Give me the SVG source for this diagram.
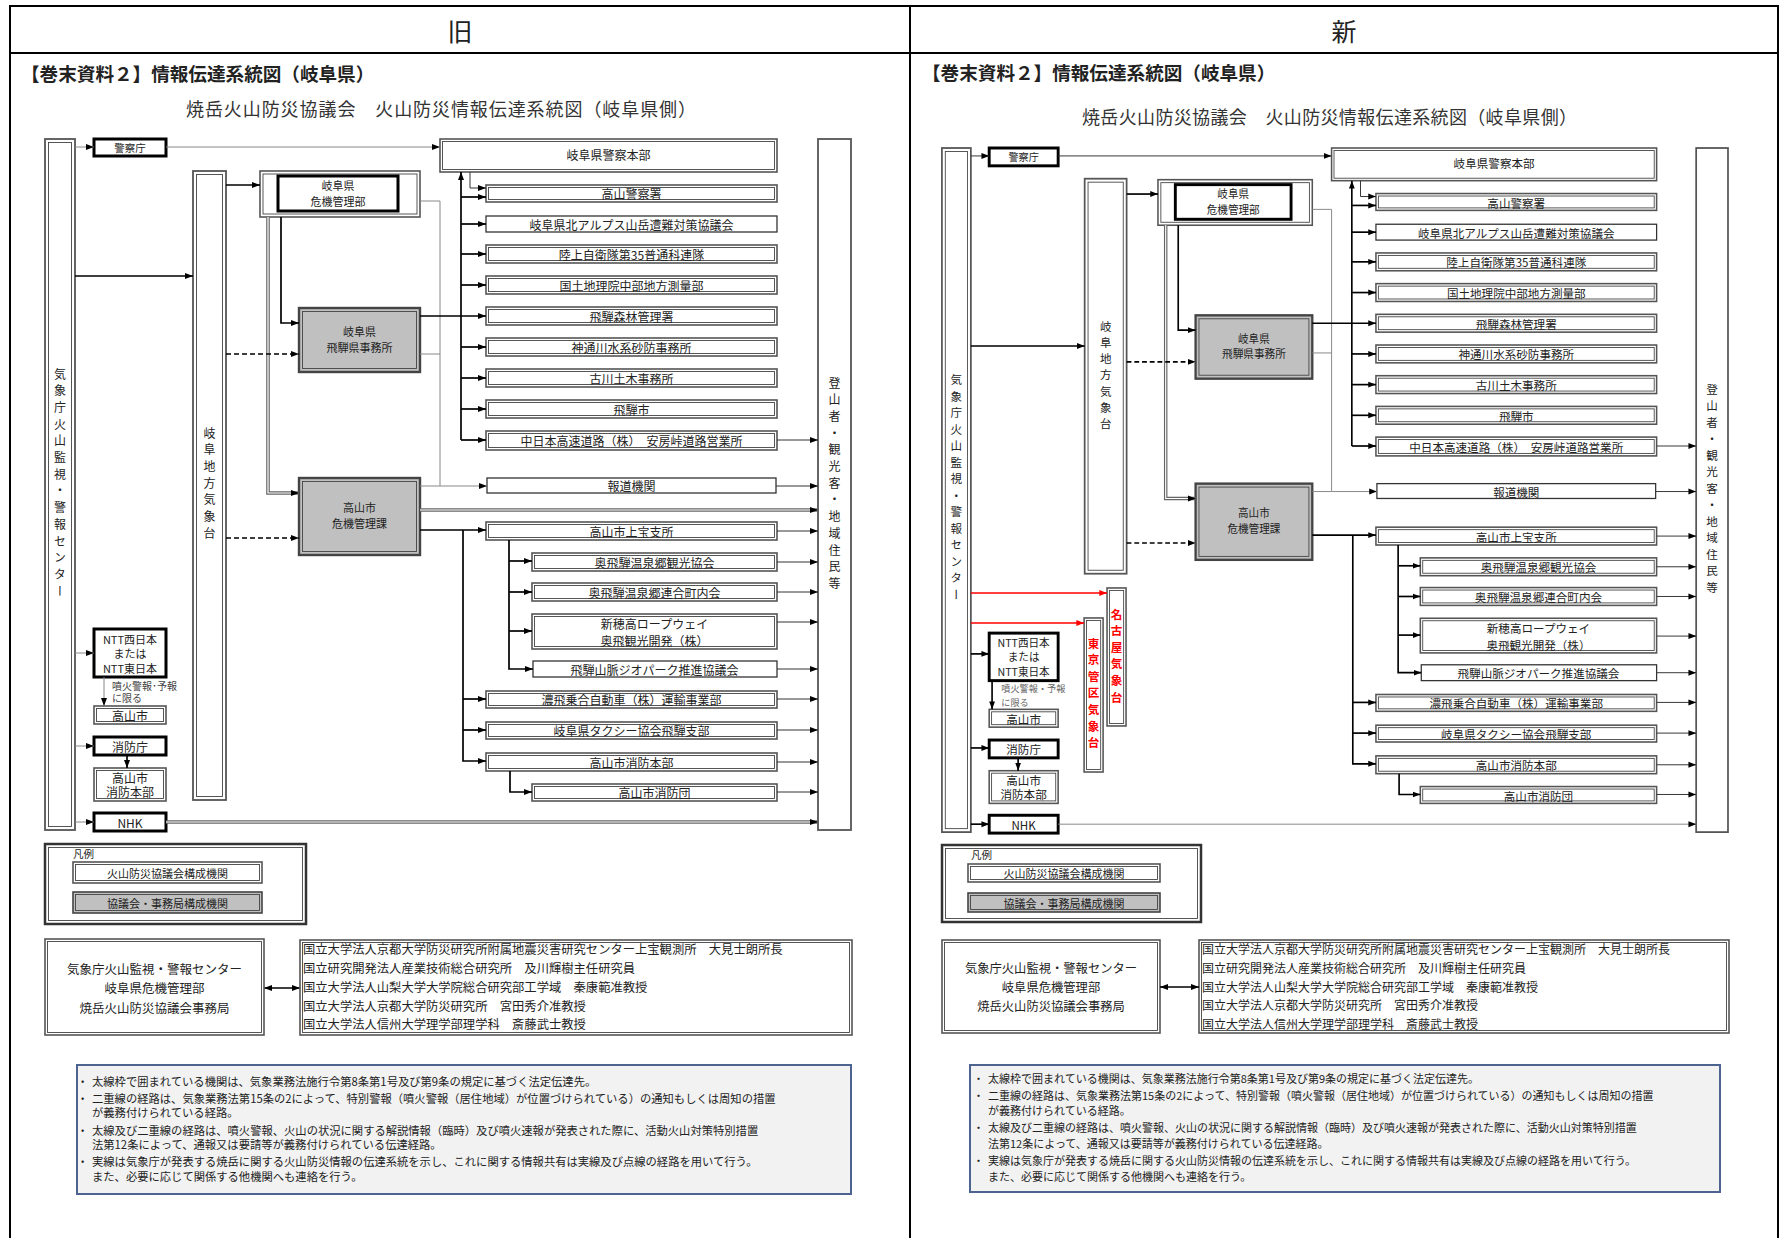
<svg xmlns="http://www.w3.org/2000/svg" width="1780" height="1238" viewBox="0 0 1780 1238">
<defs>
<style>
.t{font-family:"Noto Sans CJK JP","Noto Sans",sans-serif;fill:#222}
.c{text-anchor:middle;dominant-baseline:central}
.s{dominant-baseline:central}
.v{writing-mode:vertical-rl;font-size:12px;letter-spacing:4.7px}
.red{fill:#f00;font-weight:bold}
.f9{font-size:9.5px}.f10{font-size:10px}.f105{font-size:10.5px}.f11{font-size:11px}.f113{font-size:11.3px}.f12{font-size:12px}.f123{font-size:12.3px}.f125{font-size:12.5px}
.bo{fill:#fff;stroke:#555;stroke-width:1.6}
.bi{fill:none;stroke:#444;stroke-width:0.9}
.bt{fill:#fff;stroke:#000;stroke-width:3}
.bs{fill:#fff;stroke:#333;stroke-width:1.3}
.bg{fill:#c0c0c0;stroke:#444;stroke-width:2.4}
.cl{fill:#fff;stroke:#555;stroke-width:1.8}
.l{fill:none;stroke:#000;stroke-width:1.7}
.lg{fill:none;stroke:#888;stroke-width:1}
.lt{fill:none;stroke:#333;stroke-width:1}
.ld{fill:none;stroke:#000;stroke-width:1.7;stroke-dasharray:5 3}
.l2o{fill:none;stroke:#666;stroke-width:3.6}
.l2i{fill:none;stroke:#fff;stroke-width:1.2}
.lr{fill:none;stroke:#f00;stroke-width:1.6}
.fr{fill:none;stroke:#000;stroke-width:2}
.nb{fill:#f2f2f2;stroke:#4d6390;stroke-width:2}
.ttl{font-size:18.6px;font-weight:bold}
.sub{font-size:18px;fill:#333}
</style>
<marker id="a" viewBox="0 0 8 8" refX="8" refY="4" markerWidth="8" markerHeight="8" markerUnits="userSpaceOnUse" orient="auto-start-reverse"><path d="M0,1L8,4L0,7z" fill="#000"/></marker>
<marker id="ar" viewBox="0 0 8 8" refX="8" refY="4" markerWidth="8" markerHeight="8" markerUnits="userSpaceOnUse" orient="auto"><path d="M0,1L8,4L0,7z" fill="#f00"/></marker>
</defs>
<rect x="0" y="0" width="1780" height="1238" fill="#fff"/>
<g id="frame">
<path class="fr" d="M10,1238V6H1778V1238M10,53H1778M910,6V1238"/>
<text class="t c" x="460" y="30" style="font-size:25px">旧</text>
<text class="t c" x="1344" y="30" style="font-size:25px">新</text>
</g>

<!-- ===== LEFT PANEL ===== -->
<g id="L-titles">
<text class="t s ttl" x="21" y="72">【巻末資料２】情報伝達系統図（岐阜県）</text>
<text class="t s sub" x="186" y="108" textLength="510">焼岳火山防災協議会　火山防災情報伝達系統図（岐阜県側）</text>
</g>
<g id="L-nodes">
<g id="L-kishocho"><rect class="cl" x="45" y="139" width="30" height="691"/><rect class="bi" x="48.5" y="142.5" width="23" height="684"/><text class="t v" x="60" y="368">気象庁火山監視・警報センター</text></g>
<g id="L-kishodai"><rect class="cl" x="193" y="171" width="33" height="629"/><rect class="bi" x="196.5" y="174.5" width="26" height="622"/><text class="t v" x="209.5" y="427">岐阜地方気象台</text></g>
<g id="L-tozansha"><rect class="cl" x="818" y="139" width="33" height="691"/><text class="t v" x="834.5" y="377">登山者・観光客・地域住民等</text></g>
<g id="L-keisatsucho"><rect class="bt" x="94" y="139" width="72" height="17"/><text class="t c f105" x="130" y="147.5">警察庁</text></g>
<g id="L-kikikanri"><rect class="bo" x="260" y="171" width="160" height="46"/><rect class="bi" x="263" y="174" width="154" height="40"/><rect class="bt" x="278" y="176" width="120" height="35"/><text class="t c f11" x="338" y="184.5">岐阜県</text><text class="t c f11" x="338" y="201">危機管理部</text></g>
<g id="L-hida"><rect class="bg" x="299" y="308" width="121" height="64"/><rect class="bi" x="302.5" y="311.5" width="114" height="57"/><text class="t c f11" x="359.5" y="331">岐阜県</text><text class="t c f11" x="359.5" y="347">飛騨県事務所</text></g>
<g id="L-takayama-kiki"><rect class="bg" x="299" y="478" width="121" height="77"/><rect class="bi" x="302.5" y="481.5" width="114" height="70"/><text class="t c f11" x="359.5" y="507">高山市</text><text class="t c f11" x="359.5" y="523">危機管理課</text></g>
<g id="L-keisatsuhonbu"><rect class="bo" x="440" y="139" width="337" height="33"/><rect class="bi" x="442.5" y="141.5" width="332" height="28"/><text class="t c f12" x="608.5" y="154">岐阜県警察本部</text></g>
<g id="L-b1"><rect class="bo" x="486" y="185" width="291" height="17"/><rect class="bi" x="488.5" y="187.5" width="286" height="12"/><text class="t c f12" x="631.5" y="193.5">高山警察署</text></g>
<g id="L-b2"><rect class="bs" x="486" y="216" width="291" height="16"/><text class="t c f12" x="631.5" y="224">岐阜県北アルプス山岳遭難対策協議会</text></g>
<g id="L-b3"><rect class="bo" x="486" y="245" width="291" height="18"/><rect class="bi" x="488.5" y="247.5" width="286" height="13"/><text class="t c f12" x="631.5" y="254">陸上自衛隊第35普通科連隊</text></g>
<g id="L-b4"><rect class="bo" x="486" y="276" width="291" height="18"/><rect class="bi" x="488.5" y="278.5" width="286" height="13"/><text class="t c f12" x="631.5" y="285">国土地理院中部地方測量部</text></g>
<g id="L-b5"><rect class="bo" x="486" y="307" width="291" height="18"/><rect class="bi" x="488.5" y="309.5" width="286" height="13"/><text class="t c f12" x="631.5" y="316">飛騨森林管理署</text></g>
<g id="L-b6"><rect class="bo" x="486" y="338" width="291" height="18"/><rect class="bi" x="488.5" y="340.5" width="286" height="13"/><text class="t c f12" x="631.5" y="347">神通川水系砂防事務所</text></g>
<g id="L-b7"><rect class="bo" x="486" y="369" width="291" height="18"/><rect class="bi" x="488.5" y="371.5" width="286" height="13"/><text class="t c f12" x="631.5" y="378">古川土木事務所</text></g>
<g id="L-b8"><rect class="bo" x="486" y="400" width="291" height="18"/><rect class="bi" x="488.5" y="402.5" width="286" height="13"/><text class="t c f12" x="631.5" y="409">飛騨市</text></g>
<g id="L-b9"><rect class="bo" x="486" y="431" width="291" height="19"/><rect class="bi" x="488.5" y="433.5" width="286" height="14"/><text class="t c f12" x="631.5" y="440.5">中日本高速道路（株）　安房峠道路営業所</text></g>
<g id="L-b10"><rect class="bs" x="487" y="478" width="289" height="15"/><text class="t c f12" x="631.5" y="485.5">報道機関</text></g>
<g id="L-b11"><rect class="bo" x="486" y="522" width="291" height="18"/><rect class="bi" x="488.5" y="524.5" width="286" height="13"/><text class="t c f12" x="631.5" y="531">高山市上宝支所</text></g>
<g id="L-b12"><rect class="bo" x="532" y="553" width="245" height="18"/><rect class="bi" x="534.5" y="555.5" width="240" height="13"/><text class="t c f12" x="654.5" y="562">奥飛騨温泉郷観光協会</text></g>
<g id="L-b13"><rect class="bo" x="532" y="583" width="245" height="18"/><rect class="bi" x="534.5" y="585.5" width="240" height="13"/><text class="t c f12" x="654.5" y="592">奥飛騨温泉郷連合町内会</text></g>
<g id="L-b14"><rect class="bo" x="532" y="614" width="245" height="35"/><rect class="bi" x="534.5" y="616.5" width="240" height="30"/><text class="t c f12" x="654.5" y="623.5">新穂高ロープウェイ</text><text class="t c f12" x="654.5" y="640">奥飛観光開発（株）</text></g>
<g id="L-b15"><rect class="bs" x="533" y="661" width="244" height="16"/><text class="t c f12" x="654.5" y="669">飛騨山脈ジオパーク推進協議会</text></g>
<g id="L-b16"><rect class="bo" x="486" y="691" width="291" height="17"/><rect class="bi" x="488.5" y="693.5" width="286" height="12"/><text class="t c f12" x="631.5" y="699.5">濃飛乗合自動車（株）運輸事業部</text></g>
<g id="L-b17"><rect class="bo" x="486" y="722" width="291" height="17"/><rect class="bi" x="488.5" y="724.5" width="286" height="12"/><text class="t c f12" x="631.5" y="730.5">岐阜県タクシー協会飛騨支部</text></g>
<g id="L-b18"><rect class="bo" x="486" y="753" width="291" height="18"/><rect class="bi" x="488.5" y="755.5" width="286" height="13"/><text class="t c f12" x="631.5" y="762">高山市消防本部</text></g>
<g id="L-b19"><rect class="bo" x="532" y="784" width="245" height="17"/><rect class="bi" x="534.5" y="786.5" width="240" height="12"/><text class="t c f12" x="654.5" y="792.5">高山市消防団</text></g>
<g id="L-ntt"><rect class="bt" x="94" y="629" width="72" height="48"/><text class="t c f11" x="130" y="638.5">NTT西日本</text><text class="t c f11" x="130" y="653">または</text><text class="t c f11" x="130" y="667.5">NTT東日本</text></g>
<g id="L-takayama"><rect class="bo" x="94" y="706" width="72" height="18"/><rect class="bi" x="96.5" y="708.5" width="67" height="13"/><text class="t c f12" x="130" y="715">高山市</text></g>
<g id="L-shobocho"><rect class="bt" x="94" y="737" width="72" height="18"/><text class="t c f12" x="130" y="746">消防庁</text></g>
<g id="L-shobohonbu"><rect class="bo" x="94" y="768" width="72" height="33"/><rect class="bi" x="96.5" y="770.5" width="67" height="28"/><text class="t c f12" x="130" y="777">高山市</text><text class="t c f12" x="130" y="791">消防本部</text></g>
<g id="L-nhk"><rect class="bt" x="94" y="813" width="72" height="18"/><text class="t c f12" x="130" y="822">NHK</text></g>
</g>
<g id="L-connectors">
<path class="lg" d="M75,147H94" marker-end="url(#a)"/>
<path class="lg" d="M166,147H440" marker-end="url(#a)"/>
<path class="l" d="M75,276H193" marker-end="url(#a)"/>
<path class="l" d="M226,185H260" marker-end="url(#a)"/>
<path class="l" d="M281,217V323H299" marker-end="url(#a)"/>
<path class="l2o" d="M268,217V493H299" marker-end="url(#a)"/><path class="l2i" d="M268,217V493H291"/>
<path class="ld" d="M226,354H299" marker-end="url(#a)"/>
<path class="ld" d="M226,538H299" marker-end="url(#a)"/>
<path class="lg" d="M420,201H440V486H487" marker-end="url(#a)"/>
<path class="lg" d="M420,354H440M420,486H440"/>
<path class="l" d="M420,316H486" marker-end="url(#a)"/>
<path class="l" d="M461,440V172" marker-end="url(#a)"/>
<path class="l" d="M461,440H486" marker-end="url(#a)"/>
<path class="l" d="M461,197H486" marker-end="url(#a)"/>
<path class="l" d="M461,224H486" marker-end="url(#a)"/>
<path class="l" d="M461,254H486" marker-end="url(#a)"/>
<path class="l" d="M461,285H486" marker-end="url(#a)"/>
<path class="l" d="M461,347H486" marker-end="url(#a)"/>
<path class="l" d="M461,378H486" marker-end="url(#a)"/>
<path class="l" d="M461,409H486" marker-end="url(#a)"/>
<path class="lt" d="M470,172V188H486" marker-end="url(#a)"/>
<path class="l2o" d="M420,510H818" marker-end="url(#a)"/><path class="l2i" d="M420,510H810"/>
<path class="l" d="M420,530H486" marker-end="url(#a)"/>
<path class="l" d="M463,530V761H486" marker-end="url(#a)"/>
<path class="l" d="M463,699H486" marker-end="url(#a)"/>
<path class="l" d="M463,730H486" marker-end="url(#a)"/>
<path class="l" d="M509,540V669H533" marker-end="url(#a)"/>
<path class="l" d="M509,561H532" marker-end="url(#a)"/>
<path class="l" d="M509,592H532" marker-end="url(#a)"/>
<path class="l" d="M509,631H532" marker-end="url(#a)"/>
<path class="l" d="M510,771V792H532" marker-end="url(#a)"/>
<path class="lt" d="M777,440H818" marker-end="url(#a)"/>
<path class="lt" d="M776,486H818" marker-end="url(#a)"/>
<path class="lt" d="M777,531H818" marker-end="url(#a)"/>
<path class="lt" d="M777,562H818" marker-end="url(#a)"/>
<path class="lt" d="M777,592H818" marker-end="url(#a)"/>
<path class="lt" d="M777,622H818" marker-end="url(#a)"/>
<path class="lt" d="M777,669H818" marker-end="url(#a)"/>
<path class="lt" d="M777,699H818" marker-end="url(#a)"/>
<path class="lt" d="M777,730H818" marker-end="url(#a)"/>
<path class="lt" d="M777,762H818" marker-end="url(#a)"/>
<path class="lt" d="M777,792H818" marker-end="url(#a)"/>
<path class="l2o" d="M166,822H818" marker-end="url(#a)"/><path class="l2i" d="M166,822H810"/>
<path class="lg" d="M75,653H94" marker-end="url(#a)"/>
<path class="lg" d="M104,677V706" marker-end="url(#a)"/>
<path class="lg" d="M75,746H94" marker-end="url(#a)"/>
<path class="l" d="M127,755V768" marker-end="url(#a)"/>
<path class="lg" d="M75,822H94" marker-end="url(#a)"/>
<path class="l" d="M264,988H300" marker-start="url(#a)" marker-end="url(#a)"/>
</g>
<text class="t s f10" x="112" y="685" style="fill:#444">噴火警報･予報</text>
<text class="t s f10" x="112" y="697" style="fill:#444">に限る</text>
<g id="L-legend"><rect x="45" y="844" width="261" height="80" fill="#fff" stroke="#333" stroke-width="2.5"/><rect class="bi" x="48.5" y="847.5" width="254" height="73"/>
<text class="t s f105" x="73" y="853">凡例</text>
<rect class="bo" x="73" y="862" width="189" height="21"/><rect class="bi" x="75.5" y="864.5" width="184" height="16"/><text class="t c f11" x="167.5" y="872.5">火山防災協議会構成機関</text>
<rect class="bg" x="73" y="892" width="189" height="21" style="stroke-width:1.6"/><rect class="bi" x="75.5" y="894.5" width="184" height="16"/><text class="t c f11" x="167.5" y="902.5">協議会・事務局構成機関</text></g>
<g id="L-jimukyoku"><rect class="bo" x="45" y="939" width="219" height="96"/><rect class="bi" x="47.5" y="941.5" width="214" height="91"/>
<text class="t c f125" x="154.5" y="968">気象庁火山監視・警報センター</text><text class="t c f125" x="154.5" y="987.5">岐阜県危機管理部</text><text class="t c f125" x="154.5" y="1007">焼岳火山防災協議会事務局</text></g>
<g id="L-daigaku"><rect class="bo" x="300" y="940" width="552" height="95"/><rect class="bi" x="302.5" y="942.5" width="547" height="90"/>
<text class="t s f123" x="303" y="948.5">国立大学法人京都大学防災研究所附属地震災害研究センター上宝観測所　大見士朗所長</text>
<text class="t s f123" x="303" y="967.5">国立研究開発法人産業技術総合研究所　及川輝樹主任研究員</text>
<text class="t s f123" x="303" y="986.5">国立大学法人山梨大学大学院総合研究部工学域　秦康範准教授</text>
<text class="t s f123" x="303" y="1005.5">国立大学法人京都大学防災研究所　宮田秀介准教授</text>
<text class="t s f123" x="303" y="1024">国立大学法人信州大学理学部理学科　斎藤武士教授</text></g>
<g id="L-notes"><rect class="nb" x="77" y="1065" width="774" height="129"/>
<text class="t s f113" x="77" y="1081">・</text><text class="t s f113" x="92" y="1081">太線枠で囲まれている機関は、気象業務法施行令第8条第1号及び第9条の規定に基づく法定伝達先。</text>
<text class="t s f113" x="77" y="1097.5">・</text><text class="t s f113" x="92" y="1097.5">二重線の経路は、気象業務法第15条の2によって、特別警報（噴火警報（居住地域）が位置づけられている）の通知もしくは周知の措置</text>
<text class="t s f113" x="92" y="1112">が義務付けられている経路。</text>
<text class="t s f113" x="77" y="1129.5">・</text><text class="t s f113" x="92" y="1129.5">太線及び二重線の経路は、噴火警報、火山の状況に関する解説情報（臨時）及び噴火速報が発表された際に、活動火山対策特別措置</text>
<text class="t s f113" x="92" y="1144">法第12条によって、通報又は要請等が義務付けられている伝達経路。</text>
<text class="t s f113" x="77" y="1161">・</text><text class="t s f113" x="92" y="1161">実線は気象庁が発表する焼岳に関する火山防災情報の伝達系統を示し、これに関する情報共有は実線及び点線の経路を用いて行う。</text>
<text class="t s f113" x="92" y="1176">また、必要に応じて関係する他機関へも連絡を行う。</text></g>

<!-- ===== RIGHT PANEL ===== -->
<g id="R-titles">
<text class="t s ttl" x="922" y="71">【巻末資料２】情報伝達系統図（岐阜県）</text>
<text class="t s sub" x="1082" y="116" textLength="495">焼岳火山防災協議会　火山防災情報伝達系統図（岐阜県側）</text>
</g>
<g id="R-panel" transform="matrix(0.9645 0 0 0.99 907.2 10.4)">
<g id="R-nodes">
<g id="R-kishocho"><rect class="cl" x="36" y="139" width="30" height="691"/><rect class="bi" x="39.5" y="142.5" width="23" height="684"/><text class="t v" x="51" y="367">気象庁火山監視・警報センター</text></g>
<g id="R-kishodai"><rect class="cl" x="184" y="170" width="43.5" height="399"/><rect class="bi" x="187.5" y="173.5" width="36.5" height="392"/><text class="t v" x="205.8" y="312.8" style="letter-spacing:4.5px">岐阜地方気象台</text></g>
<g id="R-tozansha"><rect class="cl" x="818" y="139" width="33" height="691"/><text class="t v" x="834.5" y="376.5">登山者・観光客・地域住民等</text></g>
<g id="R-keisatsucho"><rect class="bt" x="85" y="139" width="71.5" height="18"/><text class="t c f105" x="120.7" y="148">警察庁</text></g>
<g id="R-kikikanri"><rect class="bo" x="260" y="171" width="160" height="46"/><rect class="bi" x="263" y="174" width="154" height="40"/><rect class="bt" x="278" y="176" width="120" height="35"/><text class="t c f11" x="338" y="184.5">岐阜県</text><text class="t c f11" x="338" y="201">危機管理部</text></g>
<g id="R-hida"><rect class="bg" x="299" y="308" width="121" height="64"/><rect class="bi" x="302.5" y="311.5" width="114" height="57"/><text class="t c f11" x="359.5" y="331">岐阜県</text><text class="t c f11" x="359.5" y="347">飛騨県事務所</text></g>
<g id="R-takayama-kiki"><rect class="bg" x="299" y="478" width="121" height="77"/><rect class="bi" x="302.5" y="481.5" width="114" height="70"/><text class="t c f11" x="359.5" y="507">高山市</text><text class="t c f11" x="359.5" y="523">危機管理課</text></g>
<g id="R-keisatsuhonbu"><rect class="bo" x="440" y="139" width="337" height="33"/><rect class="bi" x="442.5" y="141.5" width="332" height="28"/><text class="t c f12" x="608.5" y="154">岐阜県警察本部</text></g>
<g id="R-b1"><rect class="bo" x="486" y="185" width="291" height="17"/><rect class="bi" x="488.5" y="187.5" width="286" height="12"/><text class="t c f12" x="631.5" y="193.5">高山警察署</text></g>
<g id="R-b2"><rect class="bs" x="486" y="216" width="291" height="16"/><text class="t c f12" x="631.5" y="224">岐阜県北アルプス山岳遭難対策協議会</text></g>
<g id="R-b3"><rect class="bo" x="486" y="245" width="291" height="18"/><rect class="bi" x="488.5" y="247.5" width="286" height="13"/><text class="t c f12" x="631.5" y="254">陸上自衛隊第35普通科連隊</text></g>
<g id="R-b4"><rect class="bo" x="486" y="276" width="291" height="18"/><rect class="bi" x="488.5" y="278.5" width="286" height="13"/><text class="t c f12" x="631.5" y="285">国土地理院中部地方測量部</text></g>
<g id="R-b5"><rect class="bo" x="486" y="307" width="291" height="18"/><rect class="bi" x="488.5" y="309.5" width="286" height="13"/><text class="t c f12" x="631.5" y="316">飛騨森林管理署</text></g>
<g id="R-b6"><rect class="bo" x="486" y="338" width="291" height="18"/><rect class="bi" x="488.5" y="340.5" width="286" height="13"/><text class="t c f12" x="631.5" y="347">神通川水系砂防事務所</text></g>
<g id="R-b7"><rect class="bo" x="486" y="369" width="291" height="18"/><rect class="bi" x="488.5" y="371.5" width="286" height="13"/><text class="t c f12" x="631.5" y="378">古川土木事務所</text></g>
<g id="R-b8"><rect class="bo" x="486" y="400" width="291" height="18"/><rect class="bi" x="488.5" y="402.5" width="286" height="13"/><text class="t c f12" x="631.5" y="409">飛騨市</text></g>
<g id="R-b9"><rect class="bo" x="486" y="431" width="291" height="19"/><rect class="bi" x="488.5" y="433.5" width="286" height="14"/><text class="t c f12" x="631.5" y="440.5">中日本高速道路（株）　安房峠道路営業所</text></g>
<g id="R-b10"><rect class="bs" x="487" y="478" width="289" height="15"/><text class="t c f12" x="631.5" y="485.5">報道機関</text></g>
<g id="R-b11"><rect class="bo" x="486" y="522" width="291" height="18"/><rect class="bi" x="488.5" y="524.5" width="286" height="13"/><text class="t c f12" x="631.5" y="531">高山市上宝支所</text></g>
<g id="R-b12"><rect class="bo" x="532" y="553" width="245" height="18"/><rect class="bi" x="534.5" y="555.5" width="240" height="13"/><text class="t c f12" x="654.5" y="562">奥飛騨温泉郷観光協会</text></g>
<g id="R-b13"><rect class="bo" x="532" y="583" width="245" height="18"/><rect class="bi" x="534.5" y="585.5" width="240" height="13"/><text class="t c f12" x="654.5" y="592">奥飛騨温泉郷連合町内会</text></g>
<g id="R-b14"><rect class="bo" x="532" y="614" width="245" height="35"/><rect class="bi" x="534.5" y="616.5" width="240" height="30"/><text class="t c f12" x="654.5" y="623.5">新穂高ロープウェイ</text><text class="t c f12" x="654.5" y="640">奥飛観光開発（株）</text></g>
<g id="R-b15"><rect class="bs" x="533" y="661" width="244" height="16"/><text class="t c f12" x="654.5" y="669">飛騨山脈ジオパーク推進協議会</text></g>
<g id="R-b16"><rect class="bo" x="486" y="691" width="291" height="17"/><rect class="bi" x="488.5" y="693.5" width="286" height="12"/><text class="t c f12" x="631.5" y="699.5">濃飛乗合自動車（株）運輸事業部</text></g>
<g id="R-b17"><rect class="bo" x="486" y="722" width="291" height="17"/><rect class="bi" x="488.5" y="724.5" width="286" height="12"/><text class="t c f12" x="631.5" y="730.5">岐阜県タクシー協会飛騨支部</text></g>
<g id="R-b18"><rect class="bo" x="486" y="753" width="291" height="18"/><rect class="bi" x="488.5" y="755.5" width="286" height="13"/><text class="t c f12" x="631.5" y="762">高山市消防本部</text></g>
<g id="R-b19"><rect class="bo" x="532" y="784" width="245" height="17"/><rect class="bi" x="534.5" y="786.5" width="240" height="12"/><text class="t c f12" x="654.5" y="792.5">高山市消防団</text></g>
<g id="R-nagoya"><rect class="bo" x="207.2" y="583.4" width="19.7" height="139.4"/><rect class="bi" x="209.7" y="585.9" width="14.7" height="134.4"/><text class="t v red" x="217" y="603.7" style="letter-spacing:4.8px">名古屋気象台</text></g>
<g id="R-tokyo"><rect class="bo" x="183.4" y="613.7" width="19.7" height="155.6"/><rect class="bi" x="185.9" y="616.2" width="14.7" height="150.6"/><text class="t v red" x="193.3" y="633" style="letter-spacing:4.8px">東京管区気象台</text></g>
<g id="R-ntt"><rect class="bt" x="85" y="629" width="71.5" height="48"/><text class="t c f11" x="120.7" y="638.5">NTT西日本</text><text class="t c f11" x="120.7" y="653">または</text><text class="t c f11" x="120.7" y="667.5">NTT東日本</text></g>
<g id="R-takayama"><rect class="bo" x="85" y="706" width="71.5" height="18"/><rect class="bi" x="87.5" y="708.5" width="66.5" height="13"/><text class="t c f12" x="120.7" y="715">高山市</text></g>
<g id="R-shobocho"><rect class="bt" x="85" y="737" width="71.5" height="18"/><text class="t c f12" x="120.7" y="746">消防庁</text></g>
<g id="R-shobohonbu"><rect class="bo" x="85" y="768" width="71.5" height="33"/><rect class="bi" x="87.5" y="770.5" width="66.5" height="28"/><text class="t c f12" x="120.7" y="777">高山市</text><text class="t c f12" x="120.7" y="791">消防本部</text></g>
<g id="R-nhk"><rect class="bt" x="85" y="813" width="71.5" height="18"/><text class="t c f12" x="120.7" y="822">NHK</text></g>
</g>
<g id="R-connectors">
<path class="lt" d="M66,147H85" marker-end="url(#a)"/>
<path class="lt" d="M156.5,147H440" marker-end="url(#a)"/>
<path class="l" d="M66,339H184" marker-end="url(#a)"/>
<path class="l" d="M227.5,185.5H260" marker-end="url(#a)"/>
<path class="l" d="M281,217V323H299" marker-end="url(#a)"/>
<path class="l2o" d="M268,217V493H299" marker-end="url(#a)"/><path class="l2i" d="M268,217V493H291"/>
<path class="ld" d="M227.5,355H299" marker-end="url(#a)"/>
<path class="ld" d="M227.5,538H299" marker-end="url(#a)"/>
<path class="lg" d="M420,201H440V486H487" marker-end="url(#a)"/>
<path class="lg" d="M420,346H440M420,486H440"/>
<path class="l" d="M420,316H486" marker-end="url(#a)"/>
<path class="l" d="M461,440V172" marker-end="url(#a)"/>
<path class="l" d="M461,440H486" marker-end="url(#a)"/>
<path class="l" d="M461,197H486" marker-end="url(#a)"/>
<path class="l" d="M461,224H486" marker-end="url(#a)"/>
<path class="l" d="M461,254H486" marker-end="url(#a)"/>
<path class="l" d="M461,285H486" marker-end="url(#a)"/>
<path class="l" d="M461,347H486" marker-end="url(#a)"/>
<path class="l" d="M461,378H486" marker-end="url(#a)"/>
<path class="l" d="M461,409H486" marker-end="url(#a)"/>
<path class="lt" d="M470,172V188H486" marker-end="url(#a)"/>
<path class="l" d="M420,530H486" marker-end="url(#a)"/>
<path class="l" d="M462,530V761H486" marker-end="url(#a)"/>
<path class="l" d="M462,699H486" marker-end="url(#a)"/>
<path class="l" d="M462,730H486" marker-end="url(#a)"/>
<path class="l" d="M509,540V669H533" marker-end="url(#a)"/>
<path class="l" d="M509,561H532" marker-end="url(#a)"/>
<path class="l" d="M509,592H532" marker-end="url(#a)"/>
<path class="l" d="M509,631H532" marker-end="url(#a)"/>
<path class="l" d="M510,771V792H532" marker-end="url(#a)"/>
<path class="lt" d="M777,440H818" marker-end="url(#a)"/>
<path class="lt" d="M776,486H818" marker-end="url(#a)"/>
<path class="lt" d="M777,531H818" marker-end="url(#a)"/>
<path class="lt" d="M777,562H818" marker-end="url(#a)"/>
<path class="lt" d="M777,592H818" marker-end="url(#a)"/>
<path class="lt" d="M777,632H818" marker-end="url(#a)"/>
<path class="lt" d="M777,669H818" marker-end="url(#a)"/>
<path class="lt" d="M777,699H818" marker-end="url(#a)"/>
<path class="lt" d="M777,730H818" marker-end="url(#a)"/>
<path class="lt" d="M777,762H818" marker-end="url(#a)"/>
<path class="lt" d="M777,792H818" marker-end="url(#a)"/>
<path class="lg" d="M156.5,822H818" marker-end="url(#a)"/>
<path class="lr" d="M66,588.5H207.2" marker-end="url(#ar)"/>
<path class="lr" d="M66,618.8H183.4" marker-end="url(#ar)"/>
<path class="l" d="M66,650H85" marker-end="url(#a)"/>
<path class="l" d="M88,677V706" marker-end="url(#a)"/>
<path class="l" d="M66,745H85" marker-end="url(#a)"/>
<path class="l" d="M115,755V768" marker-end="url(#a)"/>
<path class="l" d="M66,822H85" marker-end="url(#a)"/>
</g>
<text class="t s f9" x="97.6" y="684.4" style="fill:#666">噴火警報・予報</text>
<text class="t s f9" x="97.6" y="698.6" style="fill:#666">に限る</text>
</g>
<g id="R-legend"><rect x="942" y="845" width="259" height="77" fill="#fff" stroke="#333" stroke-width="2.5"/><rect class="bi" x="945.5" y="848.5" width="252" height="70"/>
<text class="t s f105" x="971" y="854">凡例</text>
<rect class="bo" x="968" y="864" width="192" height="18"/><rect class="bi" x="970.5" y="866.5" width="187" height="13"/><text class="t c f11" x="1064" y="873">火山防災協議会構成機関</text>
<rect class="bg" x="968" y="893" width="192" height="19" style="stroke-width:1.6"/><rect class="bi" x="970.5" y="895.5" width="187" height="14"/><text class="t c f11" x="1064" y="902.5">協議会・事務局構成機関</text></g>
<g id="R-jimukyoku"><rect class="bo" x="942" y="940" width="218" height="93"/><rect class="bi" x="944.5" y="942.5" width="213" height="88"/>
<text class="t c f123" x="1051" y="968">気象庁火山監視・警報センター</text><text class="t c f123" x="1051" y="987">岐阜県危機管理部</text><text class="t c f123" x="1051" y="1006">焼岳火山防災協議会事務局</text></g>
<g id="R-daigaku"><rect class="bo" x="1199" y="940" width="530" height="93"/><rect class="bi" x="1201.5" y="942.5" width="525" height="88"/>
<text class="t s f12" x="1202" y="948">国立大学法人京都大学防災研究所附属地震災害研究センター上宝観測所　大見士朗所長</text>
<text class="t s f12" x="1202" y="967">国立研究開発法人産業技術総合研究所　及川輝樹主任研究員</text>
<text class="t s f12" x="1202" y="986">国立大学法人山梨大学大学院総合研究部工学域　秦康範准教授</text>
<text class="t s f12" x="1202" y="1004.5">国立大学法人京都大学防災研究所　宮田秀介准教授</text>
<text class="t s f12" x="1202" y="1023">国立大学法人信州大学理学部理学科　斎藤武士教授</text></g>
<g id="R-connectors-bottom"><path class="l" d="M1160,987H1199" marker-start="url(#a)" marker-end="url(#a)"/></g>
<g id="R-notes"><rect class="nb" x="970" y="1065" width="750" height="127"/>
<text class="t s f11" x="973" y="1078">・</text><text class="t s f11" x="988" y="1078">太線枠で囲まれている機関は、気象業務法施行令第8条第1号及び第9条の規定に基づく法定伝達先。</text>
<text class="t s f11" x="973" y="1094.5">・</text><text class="t s f11" x="988" y="1094.5">二重線の経路は、気象業務法第15条の2によって、特別警報（噴火警報（居住地域）が位置づけられている）の通知もしくは周知の措置</text>
<text class="t s f11" x="988" y="1110">が義務付けられている経路。</text>
<text class="t s f11" x="973" y="1127">・</text><text class="t s f11" x="988" y="1127">太線及び二重線の経路は、噴火警報、火山の状況に関する解説情報（臨時）及び噴火速報が発表された際に、活動火山対策特別措置</text>
<text class="t s f11" x="988" y="1143">法第12条によって、通報又は要請等が義務付けられている伝達経路。</text>
<text class="t s f11" x="973" y="1159.5">・</text><text class="t s f11" x="988" y="1159.5">実線は気象庁が発表する焼岳に関する火山防災情報の伝達系統を示し、これに関する情報共有は実線及び点線の経路を用いて行う。</text>
<text class="t s f11" x="988" y="1176">また、必要に応じて関係する他機関へも連絡を行う。</text></g>
</svg>
